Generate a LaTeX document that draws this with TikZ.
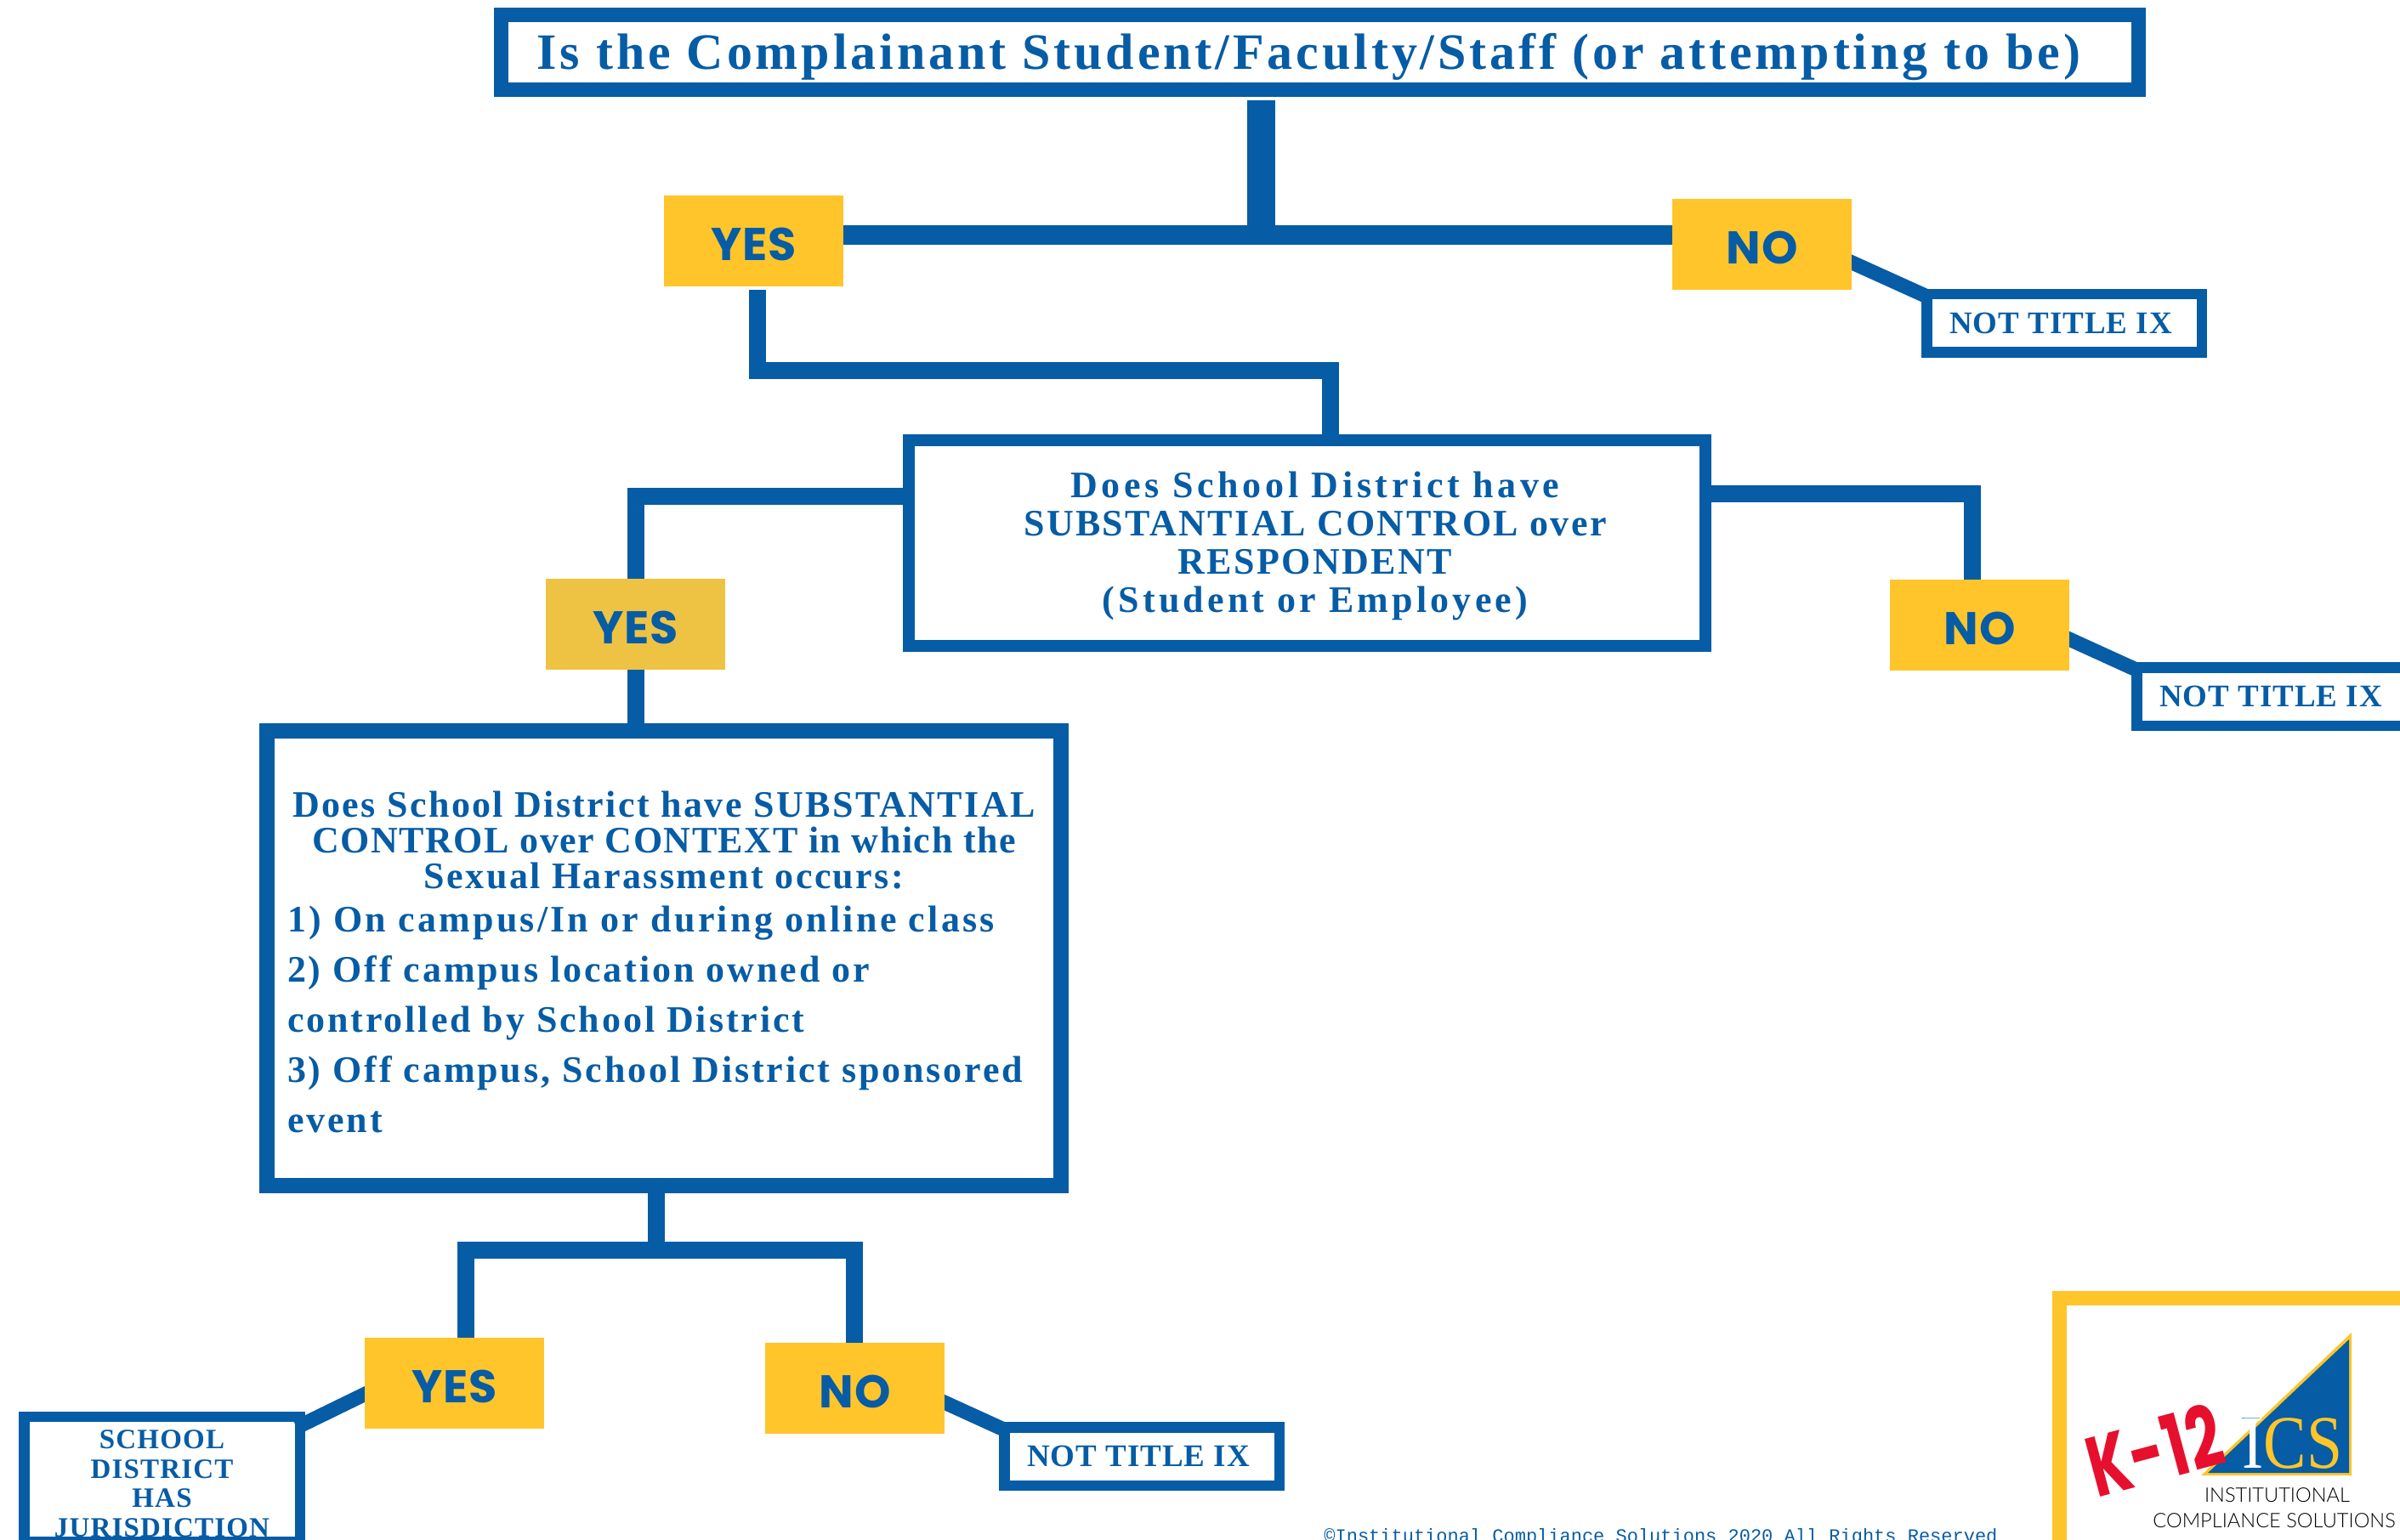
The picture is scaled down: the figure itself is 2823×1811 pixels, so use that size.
\documentclass[tikz,border=0pt]{standalone}
\usepackage{fontspec}
\usetikzlibrary{backgrounds}

\newfontfamily\qfont{Liberation Serif}[LetterSpace=5.5]
\newfontfamily\ansfont{Poppins}[LetterSpace=2]
\newfontfamily\copyfont{Liberation Mono}
\newfontfamily\logofont{Lato Light}
\newfontfamily\icsfont{Liberation Serif}

\definecolor{icsblue}{HTML}{065CA5}
\definecolor{icsyellow}{HTML}{FFC52B}
\definecolor{dullyellow}{HTML}{EEC343}
\definecolor{icsred}{HTML}{E6102E}

\newcommand{\wider}[2]{{\addfontfeature{LetterSpace=#1}#2}}

\tikzset{
	question/.style = {draw = icsblue, rectangle, text = icsblue, inner sep = 0pt, font = \qfont\bfseries\fontsize{22}{22.5}\selectfont},
	answer/.style = {fill = icsyellow, rectangle, text = icsblue, inner sep = 0pt, minimum width = 105.5pt, minimum height = 53.5pt, text height = 22.5pt, text depth = 0pt, font = \ansfont\bfseries\fontsize{27}{27}\selectfont},
	result/.style = {draw = icsblue, rectangle, text = icsblue, inner sep = 0pt, line width = 6.25pt, minimum width = 161.75pt, minimum height = 34.25pt, font = \qfont\bfseries\addfontfeature{LetterSpace=2.6}\fontsize{18.5}{18.5}\selectfont},
	link/.style = {draw = icsblue, line width = 10pt},
}

\begin{document}
\begin{tikzpicture}[x = 0.5pt, y = -0.5pt]

\clip (0,0) rectangle (2823,1811);

\node[question, line width = 8.5pt, minimum width = 963pt, minimum height = 44pt, text height = 24pt, text depth = 4.5pt, font = \qfont\bfseries\addfontfeature{LetterSpace=6.5}\fontsize{30}{30}\selectfont] (Complainant) at (1552.5, 61.5) {Is the Complainant Student/Faculty/Staff (or attempting to be)\hspace*{13pt}};

\node[question, line width = 7pt, minimum width = 468.5pt, minimum height = 121pt] (Respondent) at (1537.5, 639) {\hspace*{9.5pt}\parbox{440pt}{\vspace*{3.6pt}\centering \wider{10.5}{Does School District have}\\SUBSTANTIAL CONTROL over\\RESPONDENT\\\wider{9.5}{(Student or Employee)}}};

\node[question, line width = 9pt, minimum width = 467pt, minimum height = 267.5pt] (Context) at (781, 1127.5) {\parbox{443pt}{%
	\vspace*{4.5pt}
	{\centering\baselineskip = 21pt Does School District have SUBSTANTIAL\\\wider{3.5}{CONTROL over CONTEXT in which the}\\Sexual Harassment occurs:\par}
	\vspace{-3.7pt}
	{\raggedright\addfontfeature{LetterSpace=6.6}\baselineskip = 29.5pt \wider{7.4}{1) On campus/In or during online class}\\2) Off campus location owned or\\controlled by School District\\3) Off campus, School District sponsored\\event\par}}};

\foreach \name/\x/\y/\word in {Yes1/886.5/283.5/YES, No1/2072.5/287.5/NO, Yes2/747.5/734.5/YES, No2/2328.5/735.5/NO, Yes3/534.5/1627.5/YES, No3/1005.5/1633.5/NO}
	\node[answer] (\name) at (\x, \y) {\word};
\node[answer, fill = dullyellow] at (Yes2) {YES};

\foreach \name/\x/\y in {Title1/2428/380, Title2/2675/819.5, Title3/1343/1713.5}
	\node[result] (\name) at (\x, \y) {NOT TITLE IX\hspace*{4pt}};

\node[result, minimum width = 162.25pt, minimum height = 73.5pt, font = \qfont\bfseries\addfontfeature{LetterSpace=3.6}\fontsize{16.5}{17.25}\selectfont] (District) at (190.5, 1740.5) {\parbox{160pt}{\vspace*{5.4pt}\centering SCHOOL\\DISTRICT\\HAS\\JURISDICTION}};

\coordinate (Fork1) at (1483.5, 276.5);
\coordinate (Bend1) at (890.5, 435.5);
\coordinate (Bend2) at (1564.5, 435.5);
\coordinate (Bend3) at (747.5, 583.5);
\coordinate (Bend4) at (2320, 580.5);
\coordinate (Fork2) at (771.5, 1470.5);
\coordinate (Bend5) at (547.5, 1470.5);
\coordinate (Bend6) at (1004.5, 1470.5);

\begin{scope}[on background layer]
	\draw[link, line width = 16.5pt, shorten < = 2pt] (Complainant.south -| Fork1) -- (Fork1);
	\draw[link, line width = 11.5pt] (Yes1.east |- Fork1) -- (No1.west |- Fork1);
	\draw[link, shorten < = 2pt] (Yes1.south -| Bend1) -- (Bend1) -- (Bend2) -- (Respondent.north -| Bend2);
	\draw[link] (Respondent.west |- Bend3) -- (Bend3) -- (Yes2.north -| Bend3);
	\draw[link] (Respondent.east |- Bend4) -- (Bend4) -- (No2.north -| Bend4);
	\draw[link] (Yes2.south) -- (Yes2.south |- Context.north);
	\draw[link] (Context.south -| Fork2) -- (Fork2);
	\draw[link] (Yes3.north -| Bend5) -- (Bend5) -- (Bend6) -- (No3.north -| Bend6);

	% slanted links start under the yellow box, end inside the corner of the border
	\draw[link, line width = 8.5pt] ([yshift = 13.25pt]No1.center) -- ([xshift = 4pt, yshift = -5pt]Title1.north west);
	\draw[link, line width = 8.5pt] ([yshift = 15.75pt]No2.center) -- ([xshift = 4pt, yshift = -5pt]Title2.north west);
	\draw[link, line width = 8.5pt] ([yshift = 15.75pt]No3.center) -- ([xshift = 4pt, yshift = -5pt]Title3.north west);
	\draw[link, line width = 8.5pt] ([yshift = 19.25pt]Yes3.center) -- ([xshift = -5pt, yshift = -9.35pt]District.north east);
\end{scope}

\node[text = icsblue, anchor = base west, inner sep = 0pt, font = \copyfont\fontsize{11}{11}\selectfont] (Copyright) at (1557, 1814) {©Institutional Compliance Solutions 2020 All Rights Reserved};

% logo
\draw[icsyellow, line width = 8.25pt] (2422.25, 1527.25) rectangle (2900, 1900);
\fill[icsyellow] (2766, 1568) -- (2766, 1736) -- (2589, 1736) -- cycle;
\fill[icsblue] (2763, 1576) -- (2763, 1733) -- (2597, 1733) -- cycle;
\draw[icsblue!70, line width = 0.5pt] (2637, 1668.5) -- (2658, 1668.5);
\node[anchor = base west, inner sep = 0pt, xscale = 0.85, transform shape, font = \icsfont\fontsize{44.5}{44.5}\selectfont] (ICS) at (2637, 1727) {\textcolor{white}{I}\textcolor{icsyellow}{CS}};
\node[anchor = base, inner sep = 0pt, font = \logofont\fontsize{11.8}{11.8}\selectfont] (Institutional) at (2678.5, 1767) {INSTITUTIONAL};
\node[anchor = base west, inner sep = 0pt, font = \logofont\fontsize{11.8}{11.8}\selectfont] (Compliance) at (2532, 1797) {COMPLIANCE SOLUTIONS};
\node[text = icsred, inner sep = 0pt, rotate = 15, xscale = 0.7, transform shape, font = \ansfont\bfseries\fontsize{50}{50}\selectfont] (KTwelve) at (2534, 1706) {K-12};

\end{tikzpicture}
\end{document}
